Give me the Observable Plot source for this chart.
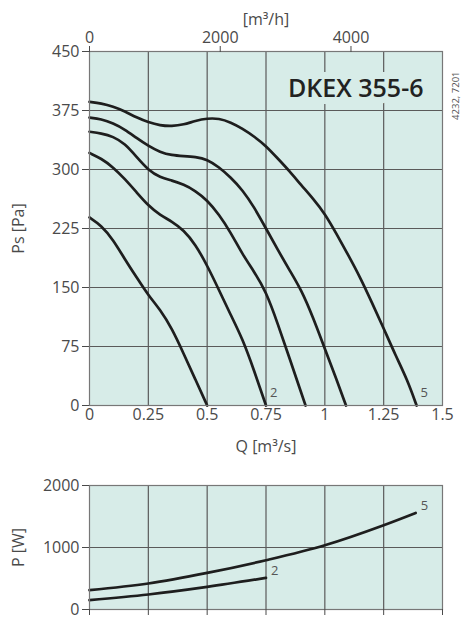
<!DOCTYPE html>
<html>
<head>
<meta charset="utf-8">
<script src="https://cdn.jsdelivr.net/npm/d3@7"></script>
<script src="https://cdn.jsdelivr.net/npm/@observablehq/plot@0.6"></script>
<style>
  html, body { margin: 0; padding: 0; background: #fff; }
  #chart { position: relative; width: 462px; height: 621px; font-family: "Open Sans", sans-serif; }
  #chart svg { position: absolute; left: 0; overflow: visible; }
</style>
</head>
<body>
<div id="chart"></div>
<script>
// ---- Data ----
const title = "DKEX 355-6";
const docCode = "4232, 7201";

// Axis ticks
const qTicks = [0, 0.25, 0.5, 0.75, 1, 1.25, 1.5];
const mhTicks = [0, 2000, 4000];
const psTicks = [0, 75, 150, 225, 300, 375, 450];
const pwTicks = [0, 1000, 2000];

// Pressure curves, speed steps 1..5: Q [m3/s] and Ps [Pa]
const q_s1  = [0, 0.05, 0.1, 0.15, 0.2, 0.25, 0.3, 0.35, 0.4, 0.45, 0.5];
const ps_s1 = [239, 229, 211, 186, 163, 140, 122, 98, 66, 33, 0];

const q_s2  = [0, 0.05, 0.1, 0.15, 0.2, 0.25, 0.3, 0.35, 0.4, 0.45, 0.5, 0.55, 0.6, 0.65, 0.7, 0.75];
const ps_s2 = [321, 314, 303, 288, 271, 254, 242, 234, 223, 205, 178, 147, 115, 85, 44, 0];

const q_s3  = [0, 0.05, 0.1, 0.15, 0.2, 0.25, 0.3, 0.35, 0.4, 0.45, 0.5, 0.55, 0.6, 0.65, 0.7, 0.75, 0.8, 0.85, 0.9, 0.918];
const ps_s3 = [348, 346, 342, 333, 316, 299, 290, 286, 281, 273, 261, 243, 220, 192, 170, 145, 104, 60, 16, 0];

const q_s4  = [0, 0.05, 0.1, 0.15, 0.2, 0.25, 0.3, 0.35, 0.4, 0.45, 0.5, 0.55, 0.6, 0.65, 0.7, 0.75, 0.8, 0.85, 0.9, 0.95, 1.0, 1.05, 1.09];
const ps_s4 = [366, 364, 359, 351, 340, 330, 322, 318, 317, 316, 313, 303, 290, 274, 252, 225, 198, 172, 147, 112, 72, 33, 0];

const q_s5  = [0, 0.05, 0.1, 0.15, 0.2, 0.25, 0.3, 0.35, 0.4, 0.45, 0.5, 0.55, 0.6, 0.65, 0.7, 0.75, 0.8, 0.85, 0.9, 0.95, 1.0, 1.05, 1.1, 1.15, 1.2, 1.25, 1.3, 1.35, 1.39];
const ps_s5 = [386, 384, 380, 374, 366, 360, 356, 355, 357, 362, 365, 365, 360, 352, 342, 330, 314, 298, 280, 263, 244, 218, 191, 163, 131, 98, 64, 33, 0];

// Power curves (speeds 2 and 5): Q [m3/s] and P [W]
const pq_s2 = [0, 0.25, 0.5, 0.75];
const pw_s2 = [150, 242, 365, 510];
const pq_s5 = [0, 0.25, 0.5, 0.75, 1.0, 1.25, 1.386];
const pw_s5 = [311, 419, 590, 795, 1037, 1360, 1558];

const labeledSpeeds = ["2", "5"];

// ---- Build tables ----
const psSeries = [
  ["1", q_s1, ps_s1], ["2", q_s2, ps_s2], ["3", q_s3, ps_s3],
  ["4", q_s4, ps_s4], ["5", q_s5, ps_s5]
];
const psRows = psSeries.flatMap(([s, qs, ps]) => qs.map((q, i) => ({speed: s, q, v: ps[i]})));
const psEnds = psSeries.filter(([s]) => labeledSpeeds.includes(s))
  .map(([s, qs, ps]) => ({speed: s, q: qs[qs.length - 1], v: ps[ps.length - 1]}));

const pwSeries = [["2", pq_s2, pw_s2], ["5", pq_s5, pw_s5]];
const pwRows = pwSeries.flatMap(([s, qs, ps]) => qs.map((q, i) => ({speed: s, q, v: ps[i]})));
const pwEnds = pwSeries.map(([s, qs, ps]) => ({speed: s, q: qs[qs.length - 1], v: ps[ps.length - 1]}));

// ---- Styles ----
const BG = "#d7ece8";
const GRID = "#5a5a5a";
const FRAME = "#777";
const INK = "#1e1e1e";
const TXT = "#4a4a4a";
const FONT = "'Open Sans', sans-serif";

const topPlot = Plot.plot({
  width: 462, height: 455,
  marginLeft: 89, marginRight: 20, marginTop: 51, marginBottom: 50,
  style: {fontFamily: FONT, fontSize: "16px", color: TXT, background: "transparent", overflow: "visible"},
  x: {domain: [0, 1.5]},
  y: {domain: [0, 450]},
  marks: [
    Plot.frame({fill: BG, stroke: null}),
    Plot.ruleX(qTicks.slice(1, -1), {stroke: GRID, strokeWidth: 1.2}),
    Plot.ruleY(psTicks.slice(1, -1), {stroke: GRID, strokeWidth: 1.2}),
    Plot.text([title], {
      frameAnchor: "top-right", dx: -19, dy: 28, text: d => d,
      fontSize: 25, fontWeight: 600, fill: "#222", textAnchor: "end",
      stroke: BG, strokeWidth: 14, strokeLinejoin: "miter"
    }),
    Plot.line(psRows, {x: "q", y: "v", z: "speed", curve: "basis", stroke: INK, strokeWidth: 2.7}),
    Plot.frame({stroke: FRAME, strokeWidth: 1.2}),
    Plot.axisY({ticks: psTicks, tickSize: 7, tickPadding: 3, tickFormat: d => String(d),
      label: "Ps [Pa]", labelAnchor: "center", labelArrow: "none", labelOffset: 77}),
    Plot.axisX({ticks: qTicks, tickSize: 0, tickPadding: 3, tickFormat: d => String(d),
      label: "Q [m³/s]", labelAnchor: "center", labelArrow: "none", labelOffset: 46}),
    Plot.axisX({anchor: "top", ticks: mhTicks.map(v => v / 3600), tickSize: 6, tickPadding: 3,
      tickFormat: d => String(Math.round(d * 3600)),
      label: "[m³/h]", labelAnchor: "center", labelArrow: "none", labelOffset: 38}),
    Plot.text(psEnds, {x: "q", y: "v", text: "speed", dx: 4, dy: -13, textAnchor: "start", fontSize: 13, fill: "#555"}),
    Plot.text([docCode], {frameAnchor: "top-right", dx: 10, dy: 20, text: d => d, rotate: -90, fontSize: 9.5, fill: "#555"})
  ]
});

const botPlot = Plot.plot({
  width: 462, height: 166,
  marginLeft: 89, marginRight: 20, marginTop: 30, marginBottom: 12,
  style: {fontFamily: FONT, fontSize: "16px", color: TXT, background: "transparent", overflow: "visible"},
  x: {domain: [0, 1.5]},
  y: {domain: [0, 2000]},
  marks: [
    Plot.frame({fill: BG, stroke: null}),
    Plot.ruleX(qTicks.slice(1, -1), {stroke: GRID, strokeWidth: 1.2}),
    Plot.ruleY(pwTicks.slice(1, -1), {stroke: GRID, strokeWidth: 1.2}),
    Plot.line(pwRows, {x: "q", y: "v", z: "speed", curve: "monotone-x", stroke: INK, strokeWidth: 2.7}),
    Plot.frame({stroke: FRAME, strokeWidth: 1.2}),
    Plot.axisY({ticks: pwTicks, tickSize: 7, tickPadding: 3, tickFormat: d => String(d),
      label: "P [W]", labelAnchor: "center", labelArrow: "none", labelOffset: 77}),
    Plot.axisX({ticks: qTicks, tickSize: 6, tickFormat: () => "", label: null}),
    Plot.text(pwEnds, {x: "q", y: "v", text: "speed", dx: 5, dy: -7, textAnchor: "start", fontSize: 13, fill: "#555"})
  ]
});

const chart = document.getElementById("chart");
topPlot.style.top = "0px";
botPlot.style.top = "455px";
chart.appendChild(topPlot);
chart.appendChild(botPlot);
</script>
</body>
</html>
